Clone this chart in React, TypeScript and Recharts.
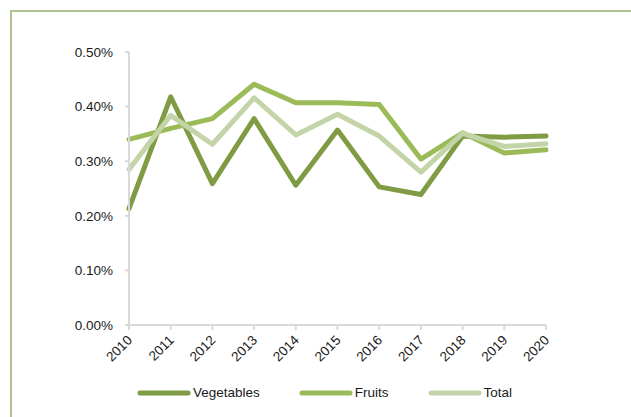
import { LineChart, Line, XAxis, YAxis, Legend } from 'recharts'

const years = ['2010', '2011', '2012', '2013', '2014', '2015', '2016', '2017', '2018', '2019', '2020']
const vegetables = [0.213, 0.418, 0.259, 0.378, 0.256, 0.357, 0.253, 0.239, 0.346, 0.344, 0.346]
const fruits = [0.34, 0.36, 0.378, 0.441, 0.407, 0.407, 0.404, 0.304, 0.352, 0.315, 0.321]
const total = [0.285, 0.384, 0.331, 0.416, 0.348, 0.386, 0.346, 0.28, 0.351, 0.327, 0.332]
const seriesNames = ['Vegetables', 'Fruits', 'Total']
const yTicks = [0, 0.1, 0.2, 0.3, 0.4, 0.5]

const data = years.map((year, i) => ({
  year,
  Vegetables: vegetables[i],
  Fruits: fruits[i],
  Total: total[i],
}))

const FONT = "'Liberation Sans', Arial, sans-serif"
const AXIS = '#d9d9d9'

const YearTick = ({ x, y, payload }: any) => (
  <text
    x={x + 4}
    y={y + 9}
    transform={`rotate(-45, ${x + 4}, ${y + 9})`}
    textAnchor="end"
    fontSize={13.5}
    fontFamily={FONT}
    fill="#1a1a1a"
  >
    {payload.value}
  </text>
)

const LegendContent = ({ payload }: any) => {
  const items = seriesNames.map((n) => payload.find((p: any) => p.value === n)).filter(Boolean)
  return (
    <div style={{ display: 'flex', gap: 39, fontFamily: FONT, fontSize: 13.5, color: '#1a1a1a' }}>
      {items.map((p: any) => (
        <div key={p.value} style={{ display: 'flex', alignItems: 'center' }}>
          <svg width={54} height={8} style={{ marginRight: 2 }}>
            <line x1={3} y1={4} x2={51} y2={4} stroke={p.color} strokeWidth={5} strokeLinecap="round" />
          </svg>
          <span>{p.value}</span>
        </div>
      ))}
    </div>
  )
}

export default function App() {
  return (
    <div style={{ position: 'absolute', left: 0, top: 0, width: 631, height: 417, background: '#fff', overflow: 'hidden' }}>
      <div
        style={{
          position: 'absolute',
          left: 10,
          top: 10,
          width: 660,
          height: 440,
          borderTop: '2px solid #adc290',
          borderLeft: '2px solid #adc290',
        }}
      />
      <LineChart width={631} height={417} data={data} margin={{ top: 52, right: 85, left: 0, bottom: 0 }}>
        <XAxis
          dataKey="year"
          height={92}
          interval={0}
          tick={<YearTick />}
          stroke={AXIS}
          strokeWidth={2}
          tickSize={5}
        />
        <YAxis
          width={129}
          domain={[0, 0.5]}
          ticks={yTicks}
          tickFormatter={(v) => `${v.toFixed(2)}%`}
          stroke={AXIS}
          strokeWidth={2}
          tickSize={4}
          tickMargin={12}
          tick={{ fill: '#1a1a1a', fontSize: 13.5, fontFamily: FONT }}
        />
        <Legend
          layout="horizontal"
          verticalAlign="middle"
          content={<LegendContent />}
          wrapperStyle={{ top: 385, left: 137, width: 440 }}
        />
        <Line
          dataKey="Vegetables"
          stroke="#7f9c44"
          strokeWidth={5}
          dot={false}
          strokeLinejoin="round"
          strokeLinecap="round"
          isAnimationActive={false}
        />
        <Line
          dataKey="Fruits"
          stroke="#9bbb59"
          strokeWidth={5}
          dot={false}
          strokeLinejoin="round"
          strokeLinecap="round"
          isAnimationActive={false}
        />
        <Line
          dataKey="Total"
          stroke="#c3d5a8"
          strokeWidth={5}
          dot={false}
          strokeLinejoin="round"
          strokeLinecap="round"
          isAnimationActive={false}
        />
      </LineChart>
    </div>
  )
}
